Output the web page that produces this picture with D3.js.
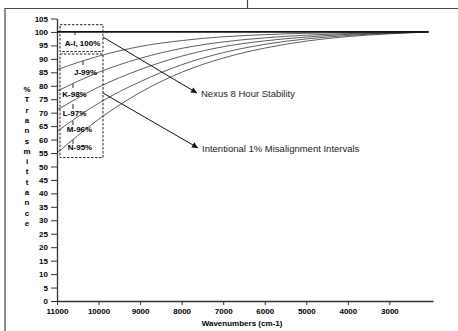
<!DOCTYPE html>
<html>
<head>
<meta charset="utf-8">
<script src="https://cdn.jsdelivr.net/npm/d3@7/dist/d3.min.js"></script>
<style>
  html, body { margin: 0; padding: 0; background: #fff; }
  svg { display: block; font-family: "Liberation Sans", Arial, sans-serif; }
</style>
</head>
<body>
<script>
// wavenumber sample points (cm-1)
const wavenumbers = [11000, 10000, 9000, 8000, 7000, 6000, 5000, 4000, 3000, 2060];
const seriesAI = [100, 100, 100, 100, 100, 100, 100, 100, 100, 100];
const seriesJ = [86, 91, 94.6, 96.8, 98.2, 99, 99.5, 99.8, 99.9, 100];
const seriesK = [78, 85, 90.2, 93.9, 96.3, 97.8, 98.8, 99.4, 99.8, 100];
const seriesL = [71, 79.5, 86, 91, 94.5, 96.7, 98.1, 99.1, 99.6, 100];
const seriesM = [63, 73.5, 81.5, 87.8, 92.3, 95.4, 97.4, 98.7, 99.5, 100];
const seriesN = [55, 67.5, 77.5, 85, 90.3, 94, 96.6, 98.3, 99.3, 100];
const curveLabels = ["A-I, 100%", "J-99%", "K-98%", "L-97%", "M-96%", "N-95%"];
const xTicks = [11000, 10000, 9000, 8000, 7000, 6000, 5000, 4000, 3000];
const yTicks = d3.range(0, 106, 5);
const yTitle = "% Transmittance";
const xTitle = "Wavenumbers (cm-1)";

const width = 458, height = 331;

const svg = d3.select('body').append('svg')
    .attr('width', width)
    .attr('height', height);

// page frame
svg.append('path')
    .attr('d', `M5,${height} V8.5 H${width} M247.5,0 V8.5`)
    .attr('fill', 'none')
    .attr('stroke', '#444')
    .attr('stroke-width', 1.2);

const x = d3.scaleLinear().domain([11000, 1950]).range([57, 433]);
const y = d3.scaleLinear().domain([0, 105]).range([301, 18.5]);

// axes
const yAxis = svg.append('g')
    .attr('transform', `translate(${x(11000)},0)`)
    .call(d3.axisLeft(y).tickValues(yTicks).tickSize(6).tickPadding(3).tickSizeOuter(0));
const xAxis = svg.append('g')
    .attr('transform', `translate(0,${y(0)})`)
    .call(d3.axisBottom(x).tickValues(xTicks).tickFormat(d3.format('d')).tickSize(4).tickPadding(3).tickSizeOuter(0));

[yAxis, xAxis].forEach(g => {
    g.select('.domain').attr('stroke', '#333').attr('stroke-width', 1.3);
    g.selectAll('.tick line').attr('stroke', '#333').attr('stroke-width', 1);
    g.selectAll('.tick text')
        .attr('fill', '#000')
        .style('font-size', '8px')
        .style('font-weight', 'bold')
        .style('font-family', '"Liberation Sans", Arial, sans-serif');
});

// stacked y title
svg.append('g').selectAll('text')
    .data(yTitle.replace(' ', '').split(''))
    .enter().append('text')
    .attr('x', 27)
    .attr('y', (d, i) => 92 + i * 10.3)
    .attr('text-anchor', 'middle')
    .style('font-size', '8px')
    .style('font-weight', 'bold')
    .text(d => d);

svg.append('text')
    .attr('x', 242)
    .attr('y', 326)
    .attr('text-anchor', 'middle')
    .style('font-size', '8px')
    .style('font-weight', 'bold')
    .text(xTitle);

// curves
const line = d3.line()
    .x((d, i) => x(wavenumbers[i]))
    .y(d => y(d))
    .curve(d3.curveMonotoneX);

const curves = [seriesJ, seriesK, seriesL, seriesM, seriesN];
svg.append('g').selectAll('path')
    .data(curves)
    .enter().append('path')
    .attr('d', line)
    .attr('fill', 'none')
    .attr('stroke', '#333')
    .attr('stroke-width', 0.8);

svg.append('path')
    .attr('d', line(seriesAI))
    .attr('fill', 'none')
    .attr('stroke', '#111')
    .attr('stroke-width', 1.8);

// dashed boxes round the labels
const boxes = [[10928, 9893, 102.7, 92.7], [10928, 9893, 91.8, 53.3]];
svg.append('g').selectAll('rect')
    .data(boxes)
    .enter().append('rect')
    .attr('x', d => x(d[0]))
    .attr('y', d => y(d[2]))
    .attr('width', d => x(d[1]) - x(d[0]))
    .attr('height', d => y(d[3]) - y(d[2]))
    .attr('fill', 'none')
    .attr('stroke', '#222')
    .attr('stroke-width', 1)
    .attr('stroke-dasharray', '2.5,1.5');

// curve labels: [wavenumber centre, baseline value, tick wavenumber, tick top, tick bottom]
const labelPos = [
    [10386, 94.8, 10567, 100.4, 98.9],
    [10314, 84.0, 10374, 89.2, 87.7],
    [10579, 75.8, 10615, 80.7, 79.2],
    [10579, 68.8, 10615, 73.2, 71.4],
    [10458, 62.8, 10615, 66.9, 65.4],
    [10446, 56.1, 10615, 59.9, 58.4]
];
const lab = svg.append('g').selectAll('g')
    .data(curveLabels)
    .enter().append('g');
lab.append('text')
    .attr('x', (d, i) => x(labelPos[i][0]))
    .attr('y', (d, i) => y(labelPos[i][1]))
    .attr('text-anchor', 'middle')
    .style('font-size', '8px')
    .style('font-weight', 'bold')
    .text(d => d);
lab.append('line')
    .attr('x1', (d, i) => x(labelPos[i][2]))
    .attr('x2', (d, i) => x(labelPos[i][2]))
    .attr('y1', (d, i) => y(labelPos[i][3]))
    .attr('y2', (d, i) => y(labelPos[i][4]))
    .attr('stroke', '#222')
    .attr('stroke-width', 1);

// arrows with notes
svg.append('defs').append('marker')
    .attr('id', 'arr')
    .attr('viewBox', '0 0 10 10')
    .attr('refX', 10).attr('refY', 5)
    .attr('markerWidth', 7).attr('markerHeight', 6)
    .attr('markerUnits', 'userSpaceOnUse')
    .attr('orient', 'auto')
    .append('path')
    .attr('d', 'M0,0 L10,5 L0,10 z')
    .attr('fill', '#111');

const notes = [
    ["Nexus 8 Hour Stability", 9893, 98.1, 7630, 77.3],
    ["Intentional 1% Misalignment Intervals", 9893, 77.3, 7606, 56.9]
];
const ng = svg.append('g').selectAll('g')
    .data(notes)
    .enter().append('g');
ng.append('line')
    .attr('x1', d => x(d[1]))
    .attr('y1', d => y(d[2]))
    .attr('x2', d => x(d[3]))
    .attr('y2', d => y(d[4]))
    .attr('stroke', '#111')
    .attr('stroke-width', 1)
    .attr('marker-end', 'url(#arr)');
ng.append('text')
    .attr('x', d => x(d[3]) + 4)
    .attr('y', d => y(d[4]) + 4)
    .style('font-size', '9.5px')
    .attr('fill', '#222')
    .text(d => d[0]);
</script>
</body>
</html>
